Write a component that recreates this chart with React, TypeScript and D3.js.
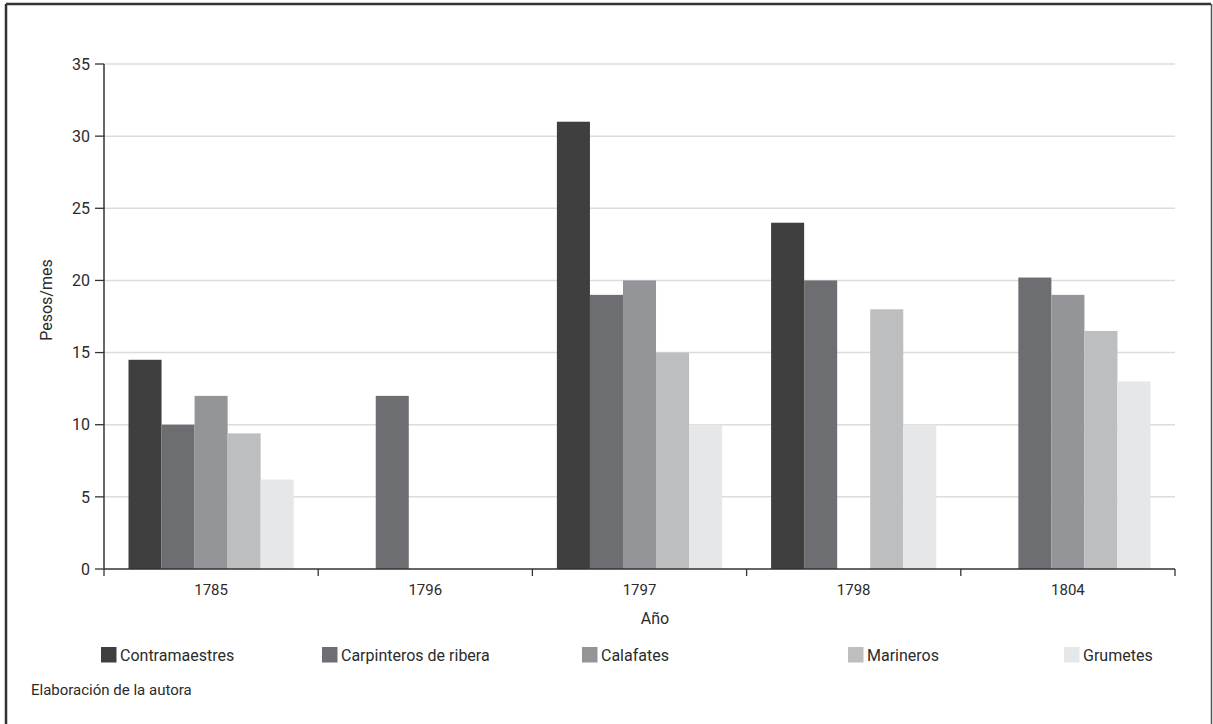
import React from "react";
import * as d3 from "d3";

const years = ["1785", "1796", "1797", "1798", "1804"];
const seriesNames = ["Contramaestres", "Carpinteros de ribera", "Calafates", "Marineros", "Grumetes"];
const seriesColors = ["#3f3f3f", "#6d6e71", "#939598", "#bcbec0", "#e6e7e8"];
// values per series, aligned with years (null = no bar)
const contramaestres: (number | null)[] = [14.5, null, 31, 24, null];
const carpinteros: (number | null)[] = [10, 12, 19, 20, 20.2];
const calafates: (number | null)[] = [12, null, 20, null, 19];
const marineros: (number | null)[] = [9.4, null, 15, 18, 16.5];
const grumetes: (number | null)[] = [6.2, null, 10, 10, 13];
const yTicks = [0, 5, 10, 15, 20, 25, 30, 35];
const legendX = [101, 322, 582, 848, 1064];

const seriesValues = [contramaestres, carpinteros, calafates, marineros, grumetes];

const W = 1213, H = 724;
const plotL = 104, plotR = 1175, plotT = 64, plotB = 569;
const FONT = "Roboto, 'Open Sans', sans-serif";
const TXT = "#2b2b2b";

export default function App() {
  const x0 = d3.scaleBand<string>().domain(years).range([plotL, plotR]).padding(0);
  const bw = x0.bandwidth();
  const gap = 24.5;
  const x1 = d3.scaleBand<string>().domain(seriesNames).range([gap, bw - gap]).padding(0);
  const y = d3.scaleLinear().domain([0, 35]).range([plotB, plotT]);

  const boundaries = years.map((yr) => x0(yr)!).concat([plotR]);

  return (
    <svg width={W} height={H} style={{ position: "absolute", left: 0, top: 0, background: "#fff" }} fontFamily={FONT}>
      <rect x={0} y={0} width={W} height={H} fill="#fff" />
      {/* frame */}
      <line x1={6} y1={4} x2={1211} y2={4} stroke="#333" strokeWidth={2.5} />
      <line x1={6} y1={4} x2={6} y2={H} stroke="#333" strokeWidth={2.5} />
      <line x1={1211.5} y1={4} x2={1211.5} y2={H} stroke="#555" strokeWidth={1.5} />

      {/* gridlines */}
      {yTicks.filter((t) => t > 0).map((t) => (
        <line key={"g" + t} x1={plotL} x2={plotR} y1={y(t)} y2={y(t)} stroke="#dcdcdc" strokeWidth={1.5} />
      ))}

      {/* bars */}
      {seriesValues.map((vals, si) =>
        vals.map((v, yi) =>
          v == null ? null : (
            <rect
              key={si + "-" + yi}
              x={x0(years[yi])! + x1(seriesNames[si])!}
              y={y(v)}
              width={x1.bandwidth()}
              height={y(0) - y(v)}
              fill={seriesColors[si]}
            />
          )
        )
      )}

      {/* y axis */}
      <line x1={plotL} x2={plotL} y1={plotT} y2={plotB} stroke="#333" strokeWidth={1.5} />
      {yTicks.map((t) => (
        <g key={"yt" + t}>
          <line x1={plotL - 9} x2={plotL} y1={y(t)} y2={y(t)} stroke="#333" strokeWidth={1.3} />
          <text x={plotL - 14} y={y(t)} dy="0.36em" textAnchor="end" fontSize={16} fill={TXT}>
            {t}
          </text>
        </g>
      ))}

      {/* x axis */}
      <line x1={plotL} x2={plotR} y1={plotB} y2={plotB} stroke="#333" strokeWidth={1.5} />
      {boundaries.map((bx, i) => (
        <line key={"xt" + i} x1={bx} x2={bx} y1={plotB} y2={plotB + 7} stroke="#333" strokeWidth={1.3} />
      ))}
      {years.map((yr) => (
        <text key={"xl" + yr} x={x0(yr)! + bw / 2} y={595} textAnchor="middle" fontSize={15} fill={TXT}>
          {yr}
        </text>
      ))}

      {/* axis titles */}
      <text x={655} y={624} textAnchor="middle" fontSize={16} fill={TXT}>
        Año
      </text>
      <text transform="translate(52,300) rotate(-90)" textAnchor="middle" fontSize={16} fill={TXT}>
        Pesos/mes
      </text>

      {/* legend */}
      {seriesNames.map((name, i) => (
        <g key={"lg" + i}>
          <rect x={legendX[i]} y={647} width={15.5} height={15.5} fill={seriesColors[i]} />
          <text x={legendX[i] + 19} y={661} fontSize={16} fill={TXT}>
            {name}
          </text>
        </g>
      ))}

      {/* source */}
      <text x={31} y={695} fontSize={15} fill={TXT}>
        Elaboración de la autora
      </text>
    </svg>
  );
}
